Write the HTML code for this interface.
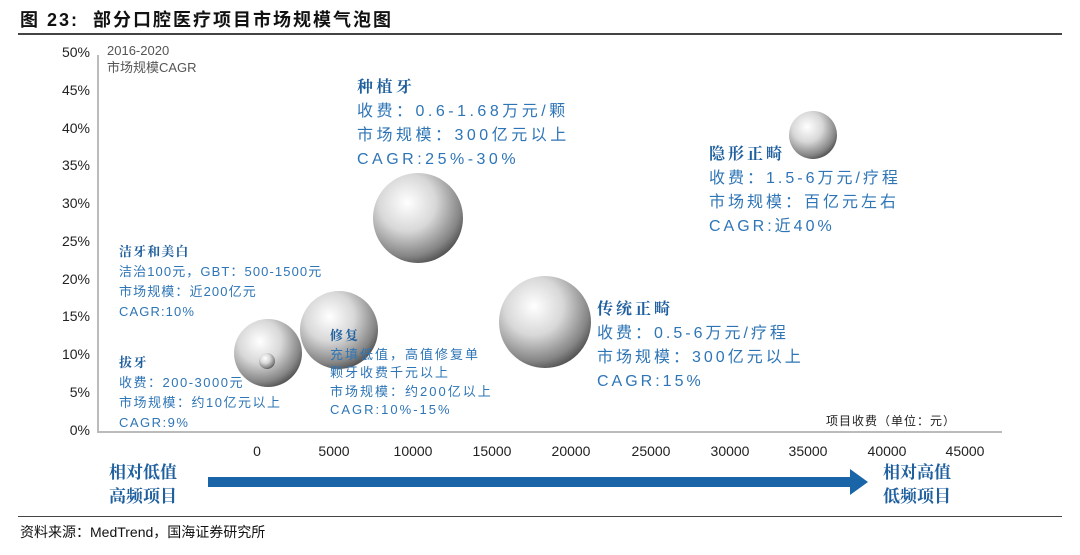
<!DOCTYPE html>
<html><head><meta charset="utf-8"><style>
body{margin:0;width:1080px;height:555px;background:#fff;position:relative;overflow:hidden;font-family:"Liberation Sans","Noto Sans CJK SC",sans-serif}
.a{position:absolute;white-space:nowrap}
.yl{position:absolute;left:40px;width:50px;text-align:right;font-size:14px;color:#222}
.xl{position:absolute;top:443px;width:60px;text-align:center;font-size:14px;color:#222}
.b{color:#2e75b6}
.t{font-family:"Noto Serif CJK SC","Noto Sans CJK SC",serif;font-weight:bold;color:#1f5f9e}
</style></head><body>
<div class="a" style="left:20px;top:6px;font-size:18px;font-weight:bold;color:#111;letter-spacing:2px">图 23:&nbsp; 部分口腔医疗项目市场规模气泡图</div>
<div class="a" style="left:18px;top:33px;width:1044px;height:2px;background:#444"></div>
<div class="yl" style="top:44px">50%</div><div class="yl" style="top:82px">45%</div><div class="yl" style="top:120px">40%</div><div class="yl" style="top:157px">35%</div><div class="yl" style="top:195px">30%</div><div class="yl" style="top:233px">25%</div><div class="yl" style="top:271px">20%</div><div class="yl" style="top:308px">15%</div><div class="yl" style="top:346px">10%</div><div class="yl" style="top:384px">5%</div><div class="yl" style="top:422px">0%</div>
<div class="a" style="left:97px;top:55px;width:2px;height:378px;background:#bbb"></div>
<div class="a" style="left:97px;top:431px;width:905px;height:2px;background:#bbb"></div>
<div class="a" style="left:107px;top:42px;font-size:13px;color:#555;line-height:17px">2016-2020<br>市场规模CAGR</div>
<div class="xl" style="left:227px">0</div><div class="xl" style="left:304px">5000</div><div class="xl" style="left:383px">10000</div><div class="xl" style="left:462px">15000</div><div class="xl" style="left:541px">20000</div><div class="xl" style="left:621px">25000</div><div class="xl" style="left:700px">30000</div><div class="xl" style="left:778px">35000</div><div class="xl" style="left:857px">40000</div><div class="xl" style="left:935px">45000</div>
<div class="a" style="left:826px;top:412px;font-size:12px;color:#222;letter-spacing:1px">项目收费（单位：元）</div>
<svg class="a" style="left:0;top:0" width="1080" height="555">
<defs><radialGradient id="g" cx="0.38" cy="0.33" r="0.7"><stop offset="0" stop-color="#fff"/><stop offset="0.45" stop-color="#d8d8d8"/><stop offset="0.85" stop-color="#858585"/><stop offset="1" stop-color="#555"/></radialGradient></defs>
<circle cx="418" cy="218" r="45" fill="url(#g)"/>
<circle cx="813" cy="135" r="24" fill="url(#g)"/>
<circle cx="545" cy="322" r="46" fill="url(#g)"/>
<circle cx="339" cy="330" r="39" fill="url(#g)"/>
<circle cx="268" cy="353" r="34" fill="url(#g)"/>
<circle cx="267" cy="361" r="8" fill="url(#g)"/>
<rect x="208" y="477" width="645" height="10" fill="#1a64a8"/>
<polygon points="850,469 868,482 850,495" fill="#1a64a8"/>
</svg>
<div class="a" style="left:357px;top:74px;font-size:16px;line-height:24px;letter-spacing:3.5px"><span class="t">种植牙</span><br><span class="b">收费：0.6-1.68万元/颗<br>市场规模：300亿元以上<br>CAGR:25%-30%</span></div>
<div class="a" style="left:709px;top:141px;font-size:16px;line-height:24px;letter-spacing:3px"><span class="t">隐形正畸</span><br><span class="b">收费：1.5-6万元/疗程<br>市场规模：百亿元左右<br>CAGR:近40%</span></div>
<div class="a" style="left:597px;top:296px;font-size:16px;line-height:24px;letter-spacing:3px"><span class="t">传统正畸</span><br><span class="b">收费：0.5-6万元/疗程<br>市场规模：300亿元以上<br>CAGR:15%</span></div>
<div class="a" style="left:119px;top:241px;font-size:13px;line-height:20px;letter-spacing:1.1px"><span class="t">洁牙和美白</span><br><span class="b">洁治100元，GBT：500-1500元<br>市场规模：近200亿元<br>CAGR:10%</span></div>
<div class="a" style="left:119px;top:352px;font-size:13px;line-height:20px;letter-spacing:1.5px"><span class="t">拔牙</span><br><span class="b">收费：200-3000元<br>市场规模：约10亿元以上<br>CAGR:9%</span></div>
<div class="a" style="left:330px;top:326px;font-size:13px;line-height:18.5px;letter-spacing:2px"><span class="t">修复</span><br><span class="b">充填低值，高值修复单<br>颗牙收费千元以上<br>市场规模：约200亿以上<br>CAGR:10%-15%</span></div>
<div class="a t" style="left:109px;top:459px;font-size:17px;line-height:24px">相对低值<br>高频项目</div>
<div class="a t" style="left:883px;top:459px;font-size:17px;line-height:24px">相对高值<br>低频项目</div>
<div class="a" style="left:18px;top:516px;width:1044px;height:1px;background:#444"></div>
<div class="a" style="left:20px;top:522px;font-size:14px;color:#111">资料来源：MedTrend，国海证券研究所</div>
</body></html>
